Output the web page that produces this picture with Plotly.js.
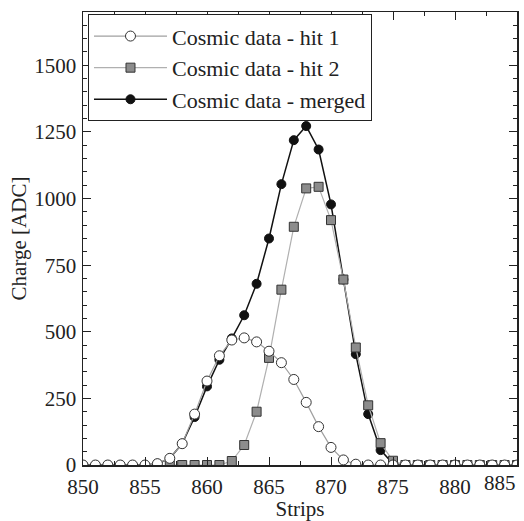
<!DOCTYPE html>
<html>
<head>
<meta charset="utf-8">
<script src="https://cdn.plot.ly/plotly-3.0.1.min.js"></script>
<style>html,body{margin:0;padding:0;background:#fff;}#chart{width:524px;height:521px;}</style>
</head>
<body>
<div id="chart"></div>
<script>
// Strip numbers
var strips = [850,851,852,853,854,855,856,857,858,859,860,861,862,863,864,865,866,867,868,869,870,871,872,873,874,875,876,877,878,879,880,881,882,883,884,885];
// Hit 1 charge
var hit1 = [0,0,0,0,0,0,5,25,80,191,315,410,469,477,462,427,384,321,235,144,66,19,3,0,0,0,0,0,0,0,0,0,0,0,0,0];
// Hit 2 (starts at strip 857)
var strips2 = [857,858,859,860,861,862,863,864,865,866,867,868,869,870,871,872,873,874,875,876,877,878,879,880,881,882,883,884,885];
var hit2 = [0,0,0,0,0,15,75,200,402,658,894,1038,1044,919,696,441,224,82,16,0,0,0,0,0,0,0,0,0,0];
// Merged charge
var merged = [0,0,0,0,0,0,5,25,80,180,295,395,475,562,680,850,1054,1219,1272,1184,978,696,416,191,56,5,0,0,0,0,0,0,0,0,0,0];

var seriesNames = ['Cosmic data - hit 1','Cosmic data - hit 2','Cosmic data - merged'];
// x tick labels (the last one is placed right-aligned at the axis end)
var xTickVals = [850,855,860,865,870,875,880];
var xLastTick = 885;

var fontFam = '"Liberation Serif", "Times New Roman", serif';
var ink = '#222';

var traces = [
  {x: strips, y: merged, name: seriesNames[2], mode: 'lines+markers',
   line: {color: '#111', width: 1.5},
   marker: {symbol: 'circle', size: 9, color: '#111', line: {color: '#111', width: 1}}},
  {x: strips2, y: hit2, name: seriesNames[1], mode: 'lines+markers',
   line: {color: '#b0b0b0', width: 1.2},
   marker: {symbol: 'square', size: 9, color: '#8c8c8c', line: {color: '#333', width: 1}}},
  {x: strips, y: hit1, name: seriesNames[0], mode: 'lines+markers',
   line: {color: '#a0a0a0', width: 1.2},
   marker: {symbol: 'circle', size: 10, color: '#fff', line: {color: '#333', width: 1}}}
];

var layout = {
  width: 524, height: 521,
  margin: {l: 83, r: 7, t: 12, b: 56},
  paper_bgcolor: '#fff', plot_bgcolor: '#fff',
  font: {family: fontFam, size: 21, color: ink},
  showlegend: true,
  legend: {
    x: 0.0115, y: 0.995, xanchor: 'left', yanchor: 'top',
    bordercolor: ink, borderwidth: 1, bgcolor: '#fff',
    traceorder: 'reversed',
    font: {family: fontFam, size: 22, color: ink},
    itemwidth: 73
  },
  xaxis: {
    range: [850, 885], tickmode: 'array', tickvals: xTickVals,
    ticks: 'inside', ticklen: 8, tickwidth: 1, tickcolor: ink,
    showline: true, linecolor: ink, linewidth: 1.5, mirror: 'allticks',
    showgrid: false, zeroline: false, ticklabelstandoff: 2,
    tickfont: {family: fontFam, size: 21, color: ink},
    minor: {tickmode: 'linear', tick0: 850, dtick: 2.5, ticks: 'inside', ticklen: 4, tickcolor: ink, showgrid: false},
    title: {text: 'Strips', font: {family: fontFam, size: 21, color: ink}, standoff: 4}
  },
  yaxis: {
    range: [0, 1700], dtick: 250, tick0: 0,
    ticks: 'inside', ticklen: 8, tickwidth: 1, tickcolor: ink,
    showline: true, linecolor: ink, linewidth: 1.5, mirror: 'allticks',
    showgrid: false, zeroline: false, ticklabelstandoff: 1,
    tickfont: {family: fontFam, size: 21, color: ink},
    minor: {dtick: 50, ticks: 'inside', ticklen: 4, tickcolor: ink, showgrid: false},
    title: {text: 'Charge [ADC]', font: {family: fontFam, size: 21, color: ink}, standoff: 2}
  },
  annotations: [
    {xref: 'x', yref: 'paper', x: xLastTick, y: 0, text: String(xLastTick), showarrow: false,
     xanchor: 'right', yanchor: 'top', xshift: 1, yshift: -4,
     font: {family: fontFam, size: 21, color: ink}}
  ]
};

Plotly.newPlot('chart', traces, layout, {displayModeBar: false, staticPlot: true});
</script>
</body>
</html>
